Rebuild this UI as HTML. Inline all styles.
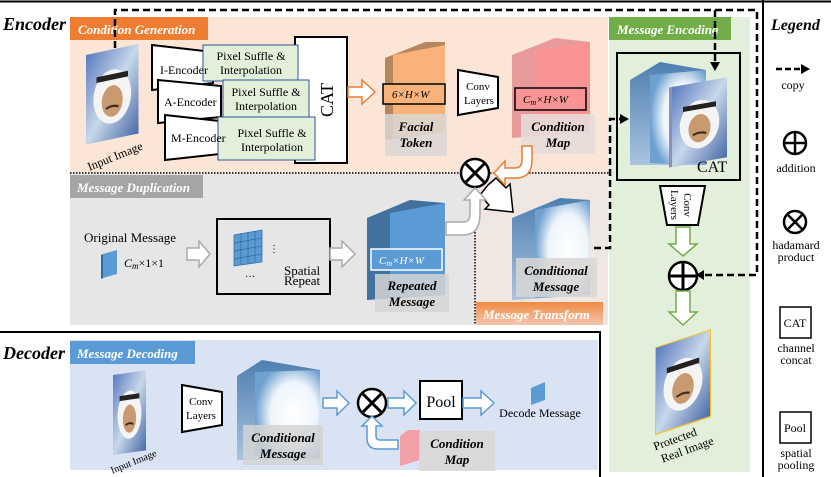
<!DOCTYPE html>
<html><head><style>body{margin:0;background:#fff}svg{display:block}text{font-family:"Liberation Serif",serif}</style></head><body>
<svg width="831" height="477" viewBox="0 0 831 477" xmlns="http://www.w3.org/2000/svg">
<defs>
<linearGradient id="face" x1="0" y1="0" x2="1" y2="1"><stop offset="0" stop-color="#5a7bc0"/><stop offset="0.5" stop-color="#c8d8ea"/><stop offset="1" stop-color="#4a6aa8"/></linearGradient>
<radialGradient id="glow" cx="0.6" cy="0.5" r="0.6"><stop offset="0" stop-color="#fff"/><stop offset="0.6" stop-color="#eef5fb"/><stop offset="1" stop-color="#6ea0d0"/></radialGradient>
<linearGradient id="side" x1="0" y1="0" x2="0" y2="1"><stop offset="0" stop-color="#4f7fb0"/><stop offset="1" stop-color="#a8c4e0"/></linearGradient>
<linearGradient id="mt" x1="0" y1="0" x2="0" y2="1"><stop offset="0" stop-color="#f08a40"/><stop offset="1" stop-color="#f2c6b0"/></linearGradient>
<g id="faceimg">
<rect x="0" y="0" width="50" height="80" fill="url(#face)"/>
<ellipse cx="25" cy="42" rx="18" ry="24" fill="#f4f4f4"/>
<ellipse cx="25" cy="46" rx="10" ry="14" fill="#c99a70"/>
<rect x="10" y="22" width="30" height="5" fill="#222"/>
<path d="M19 52 q6 -3 12 0" stroke="#3a2a20" stroke-width="2" fill="none"/>
</g>
</defs>
<rect x="70" y="17" width="538" height="156" fill="#fbe5d6"/>
<rect x="70" y="173" width="538" height="152" fill="#e7e6e6"/>
<rect x="476" y="173" width="132" height="152" fill="#f6e6df" opacity="0.6"/>
<rect x="609" y="17" width="141" height="455" fill="#e2efda"/>
<rect x="70" y="340" width="528" height="130" fill="#dae3f3"/>
<line x1="0" y1="1.5" x2="831" y2="1.5" stroke="#000" stroke-width="2"/>
<line x1="763" y1="0" x2="763" y2="477" stroke="#000" stroke-width="2"/>
<path d="M0 332 H600 V477" stroke="#000" stroke-width="2" fill="none"/>
<line x1="70" y1="173" x2="610" y2="173" stroke="#000" stroke-width="1.5" stroke-dasharray="1.5,1.5"/>
<line x1="475" y1="232" x2="475" y2="325" stroke="#000" stroke-width="1.5" stroke-dasharray="1.5,1.5"/>
<text x="3" y="30" font-size="18" font-weight="bold" font-style="italic">Encoder</text>
<text x="3" y="359" font-size="18" font-weight="bold" font-style="italic">Decoder</text>
<rect x="70" y="17" width="138" height="23" fill="#ed7d31"/>
<text x="78" y="34" font-size="13" font-weight="bold" font-style="italic" fill="#fff">Condition Generation</text>
<rect x="70" y="175" width="133" height="23" fill="#a5a5a5"/>
<text x="77" y="192" font-size="13" font-weight="bold" font-style="italic" fill="#fff">Message Duplication</text>
<rect x="476" y="302" width="127" height="23" fill="url(#mt)"/>
<text x="483" y="319" font-size="13" font-weight="bold" font-style="italic" fill="#fff">Message Transform</text>
<rect x="609" y="17" width="122" height="23" fill="#70ad47"/>
<text x="617" y="34" font-size="13" font-weight="bold" font-style="italic" fill="#fff">Message Encoding</text>
<rect x="70" y="341" width="125" height="23" fill="#5b9bd5"/>
<text x="77" y="358" font-size="13" font-weight="bold" font-style="italic" fill="#fff">Message Decoding</text>
<path d="M115 48 V10 H757 V275 H700" stroke="#000" stroke-width="2.5" stroke-dasharray="7,4" fill="none"/>
<path d="M704 270 L696 275 L704 280Z" fill="#000"/>
<path d="M715 10 V64" stroke="#000" stroke-width="2.5" stroke-dasharray="7,4" fill="none"/>
<path d="M710 62 L715 71 L720 62Z" fill="#000"/>
<path d="M594 248 H610 V119 H622" stroke="#000" stroke-width="2.5" stroke-dasharray="7,4" fill="none"/>
<path d="M620 114 L629 119 L620 124Z" fill="#000"/>
<g transform="translate(86,55) skewY(-12)"><use href="#faceimg" transform="scale(1.05,1.12)"/></g>
<text x="85" y="162" font-size="12" transform="rotate(-22 110 155)">Input Image</text>
<g stroke="#000" stroke-width="2">
<rect x="295" y="37" width="52" height="126" fill="#fff"/>
<path d="M152 45 L213 52 L213 83 L152 90Z" fill="#fff"/>
<rect x="203" y="45" width="95" height="36" fill="#e2efd9" stroke="#2f5597" stroke-width="1"/>
<path d="M158 80 L221 86 L221 117 L158 123Z" fill="#fff"/>
<rect x="223" y="80" width="86" height="37" fill="#e2efd9" stroke="#2f5597" stroke-width="1"/>
<path d="M165 115 L229 122 L229 153 L165 160Z" fill="#fff"/>
<rect x="218" y="117" width="97" height="43" fill="#e2efd9" stroke="#2f5597" stroke-width="1"/>
</g>
<text x="160" y="74" font-size="12">I-Encoder</text>
<text x="164" y="106" font-size="12">A-Encoder</text>
<text x="171" y="142" font-size="12">M-Encoder</text>
<g font-size="12" text-anchor="middle">
<text x="251" y="60">Pixel Suffle &amp;</text><text x="251" y="74">Interpolation</text>
<text x="266" y="96">Pixel Suffle &amp;</text><text x="266" y="110">Interpolation</text>
<text x="272" y="137">Pixel Suffle &amp;</text><text x="272" y="151">Interpolation</text>
</g>
<text x="0" y="0" font-size="18" text-anchor="middle" transform="translate(333,100) rotate(-90)">CAT</text>
<path d="M348 87 H362 V80 L375 92 L362 104 V97 H348Z" fill="#fff" stroke="#ed7d31" stroke-width="1.5"/>
<path d="M385 58 L425 42 L445 42 L445 132 L385 140Z" fill="#b8865c"/>
<path d="M393 55 L445 45 L445 132 L393 138Z" fill="#f8b27a"/>
<rect x="383" y="84" width="62" height="20" fill="#f8b27a" stroke="#000" stroke-width="1.5"/>
<text x="392" y="98" font-size="11" font-style="italic">6×H×W</text>
<rect x="385" y="114" width="62" height="42" fill="#d9d6d3" opacity="0.85"/>
<text x="416" y="131" font-size="13" font-weight="bold" font-style="italic" text-anchor="middle">Facial</text>
<text x="416" y="147" font-size="13" font-weight="bold" font-style="italic" text-anchor="middle">Token</text>
<path d="M458 70 L498 77 L498 108 L458 115Z" fill="#fff" stroke="#000" stroke-width="2"/>
<text x="478" y="90" font-size="11" text-anchor="middle">Conv</text><text x="479" y="104" font-size="11" text-anchor="middle">Layers</text>
<path d="M512 55 L555 38 L590 42 L590 132 L512 138Z" fill="#e89a9a"/>
<path d="M535 50 L590 42 L590 132 L535 136Z" fill="#fa9494"/>
<rect x="515" y="88" width="71" height="22" fill="#fa9494" stroke="#000" stroke-width="1.5"/>
<text x="523" y="103" font-size="11" font-style="italic">C<tspan font-size="8" dy="2">m</tspan><tspan dy="-2">×H×W</tspan></text>
<rect x="521" y="114" width="74" height="40" fill="#e5dcd8" opacity="0.9"/>
<text x="558" y="131" font-size="13" font-weight="bold" font-style="italic" text-anchor="middle">Condition</text>
<text x="558" y="147" font-size="13" font-weight="bold" font-style="italic" text-anchor="middle">Map</text>
<path d="M532 146 V160 Q532 178 516 178 H505 V185 L494 173 L505 161 V168 H515 Q522 168 522 160 V146Z" fill="#fff" stroke="#ed7d31" stroke-width="1.5"/>
<circle cx="475" cy="173" r="14" fill="#fff" stroke="#000" stroke-width="2.5"/>
<path d="M466 164 L484 182 M484 164 L466 182" stroke="#000" stroke-width="3"/>
<path d="M488 185 L496 178 L506 188 L510 184 L513 212 L485 209 L489 205 L480 195Z" fill="#fff" stroke="#000" stroke-width="1.5"/>
<path d="M446 222 H463 Q470 222 470 214 V200 H464 L475 188 L486 200 H480 V214 Q480 235 463 235 H446Z" fill="#fff" stroke="#aaa" stroke-width="1.5"/>
<text x="84" y="242" font-size="13">Original Message</text>
<path d="M103 254 L117 250 L117 274 L103 278Z" fill="#5b9bd5"/><path d="M101 255 L103 254 L103 278 L101 279Z" fill="#2f6aa0"/>
<text x="124" y="267" font-size="12" font-style="italic">C<tspan font-size="9" dy="2">m</tspan><tspan dy="-2" font-style="normal">×1×1</tspan></text>
<path d="M187 248 H199 V241 L210 254 L199 267 V260 H187Z" fill="#fff" stroke="#aaa" stroke-width="1.5"/>
<rect x="217" y="219" width="113" height="75" fill="#e7e6e6" stroke="#000" stroke-width="2"/>
<g fill="#5b9bd5" stroke="#2f6aa0" stroke-width="0.7">
<path d="M234 235 L262 230 L262 262 L234 266Z"/>
<path d="M241 233 V264 M248 232 V263 M255 231 V262 M234 243 L262 238 M234 251 L262 246 M234 259 L262 254" fill="none"/>
</g>
<text x="269" y="252" font-size="10">⋮</text>
<text x="245" y="277" font-size="10">…</text>
<text x="284" y="275" font-size="13">Spatial</text><text x="284" y="285" font-size="13">Repeat</text>
<path d="M330 248 H342 V241 L355 254 L342 267 V260 H330Z" fill="#fff" stroke="#aaa" stroke-width="1.5"/>
<path d="M367 218 L410 200 L445 203 L445 295 L367 300Z" fill="#41719c"/>
<path d="M390 213 L445 203 L445 295 L390 298Z" fill="#5b9bd5"/>
<rect x="371" y="249" width="71" height="21" fill="#5b9bd5" stroke="#fff" stroke-width="1.5"/>
<text x="379" y="264" font-size="11" font-style="italic" fill="#fff">C<tspan font-size="8" dy="2">m</tspan><tspan dy="-2">×H×W</tspan></text>
<rect x="375" y="274" width="74" height="38" fill="#d4d4d4" opacity="0.85"/>
<text x="412" y="290" font-size="13" font-weight="bold" font-style="italic" text-anchor="middle">Repeated</text>
<text x="412" y="306" font-size="13" font-weight="bold" font-style="italic" text-anchor="middle">Message</text>
<path d="M512 218 L560 198 L590 200 L590 295 L512 300Z" fill="url(#side)"/>
<path d="M535 210 L590 200 L590 295 L535 298Z" fill="url(#glow)"/>
<rect x="516" y="258" width="81" height="39" fill="#d9d6d3" opacity="0.85"/>
<text x="556" y="275" font-size="13" font-weight="bold" font-style="italic" text-anchor="middle">Conditional</text>
<text x="556" y="291" font-size="13" font-weight="bold" font-style="italic" text-anchor="middle">Message</text>
<rect x="617" y="53" width="123" height="127" fill="none" stroke="#000" stroke-width="2"/>
<path d="M630 80 L660 62 L706 70 L706 165 L630 165Z" fill="url(#side)"/>
<path d="M650 75 L706 70 L706 165 L650 163Z" fill="url(#glow)"/>
<g transform="translate(672,87) skewY(-10)"><rect x="-3" y="0" width="6" height="80" fill="#8a8fc0"/><use href="#faceimg" transform="scale(1.1,1.0)"/></g>
<text x="697" y="172" font-size="16">CAT</text>
<path d="M660 186 L705 186 L698 225 L667 225Z" fill="#fff" stroke="#000" stroke-width="2"/>
<text font-size="11" transform="translate(680,205) rotate(90)" text-anchor="middle"><tspan x="0" y="-4">Conv</tspan><tspan x="0" y="9">Layers</tspan></text>
<path d="M676 227 V244 H669 L683 256 L697 244 H690 V227Z" fill="#fff" stroke="#70ad47" stroke-width="1.5"/>
<circle cx="683" cy="276" r="14" fill="#fff" stroke="#000" stroke-width="2.5"/>
<path d="M683 262 V290 M669 276 H697" stroke="#000" stroke-width="3"/>
<path d="M676 291 V312 H669 L683 325 L697 312 H690 V291Z" fill="#fff" stroke="#70ad47" stroke-width="1.5"/>
<g transform="translate(656,348) skewY(-18)"><rect x="-1" y="-1" width="56" height="88" fill="#f4c430"/><use href="#faceimg" transform="scale(1.08,1.07)"/></g>
<text font-size="12" transform="rotate(-20 685 445)"><tspan x="655" y="440">Protected</tspan><tspan x="658" y="454">Real Image</tspan></text>
<text x="771" y="30" font-size="16" font-weight="bold" font-style="italic">Legend</text>
<path d="M776 69 H800" stroke="#000" stroke-width="2.5" stroke-dasharray="6,3"/>
<path d="M801 64 L810 69 L801 74Z" fill="#000"/>
<text x="793" y="89" font-size="12" text-anchor="middle">copy</text>
<circle cx="795" cy="143" r="11" fill="#fff" stroke="#000" stroke-width="2.5"/>
<path d="M795 132 V154 M784 143 H806" stroke="#000" stroke-width="2.5"/>
<text x="796" y="172" font-size="12" text-anchor="middle">addition</text>
<circle cx="795" cy="222" r="11" fill="#fff" stroke="#000" stroke-width="2.5"/>
<path d="M788 215 L802 229 M802 215 L788 229" stroke="#000" stroke-width="2.5"/>
<text x="796" y="249" font-size="12" text-anchor="middle">hadamard</text>
<text x="796" y="261" font-size="12" text-anchor="middle">product</text>
<rect x="780" y="307" width="31" height="31" fill="#fff" stroke="#000" stroke-width="1.5"/>
<text x="795" y="327" font-size="12" text-anchor="middle">CAT</text>
<text x="796" y="352" font-size="12" text-anchor="middle">channel</text>
<text x="796" y="364" font-size="12" text-anchor="middle">concat</text>
<rect x="780" y="412" width="31" height="31" fill="#fff" stroke="#000" stroke-width="1.5"/>
<text x="795" y="432" font-size="12" text-anchor="middle">Pool</text>
<text x="796" y="457" font-size="12" text-anchor="middle">spatial</text>
<text x="796" y="469" font-size="12" text-anchor="middle">pooling</text>
<g transform="translate(113,375) skewY(-8)"><use href="#faceimg" transform="scale(0.66,1.0)"/></g>
<text x="108" y="468" font-size="10" transform="rotate(-22 125 460)">Input Image</text>
<path d="M182 385 L222 392 L222 425 L182 432Z" fill="#fff" stroke="#000" stroke-width="2"/>
<text x="201" y="405" font-size="11" text-anchor="middle">Conv</text><text x="201" y="419" font-size="11" text-anchor="middle">Layers</text>
<path d="M237 376 L262 360 L320 370 L320 460 L237 460Z" fill="url(#side)"/>
<path d="M255 372 L320 370 L320 458 L255 456Z" fill="url(#glow)"/>
<rect x="243" y="425" width="80" height="40" fill="#d4d4d4" opacity="0.85"/>
<text x="283" y="442" font-size="13" font-weight="bold" font-style="italic" text-anchor="middle">Conditional</text>
<text x="283" y="458" font-size="13" font-weight="bold" font-style="italic" text-anchor="middle">Message</text>
<path d="M323 398 H337 V391 L349 403 L337 415 V408 H323Z" fill="#fff" stroke="#5b9bd5" stroke-width="1.5"/>
<circle cx="372" cy="403" r="14" fill="#fff" stroke="#000" stroke-width="2.5"/>
<path d="M363 394 L381 412 M381 394 L363 412" stroke="#000" stroke-width="3"/>
<path d="M388 398 H404 V391 L416 403 L404 415 V408 H388Z" fill="#fff" stroke="#5b9bd5" stroke-width="1.5"/>
<rect x="420" y="381" width="42" height="38" fill="#fff" stroke="#000" stroke-width="2"/>
<text x="441" y="407" font-size="16" text-anchor="middle">Pool</text>
<path d="M463 398 H481 V391 L494 403 L481 415 V408 H463Z" fill="#fff" stroke="#5b9bd5" stroke-width="1.5"/>
<path d="M531 388 L545 382 L545 400 L531 405Z" fill="#5b9bd5"/>
<text x="540" y="417" font-size="12" text-anchor="middle">Decode Message</text>
<path d="M398 440 H380 Q376 440 376 436 V426 H382 L372 416 L362 426 H367 V438 Q367 449 378 449 H398Z" fill="#fff" stroke="#5b9bd5" stroke-width="1.5"/>
<path d="M400 436 L408 430 L420 430 L420 460 L400 466Z" fill="#f4a0a8"/>
<rect x="419" y="431" width="76" height="40" fill="#d9d6d3" opacity="0.85"/>
<text x="457" y="448" font-size="13" font-weight="bold" font-style="italic" text-anchor="middle">Condition</text>
<text x="457" y="464" font-size="13" font-weight="bold" font-style="italic" text-anchor="middle">Map</text>
</svg>
</body></html>
